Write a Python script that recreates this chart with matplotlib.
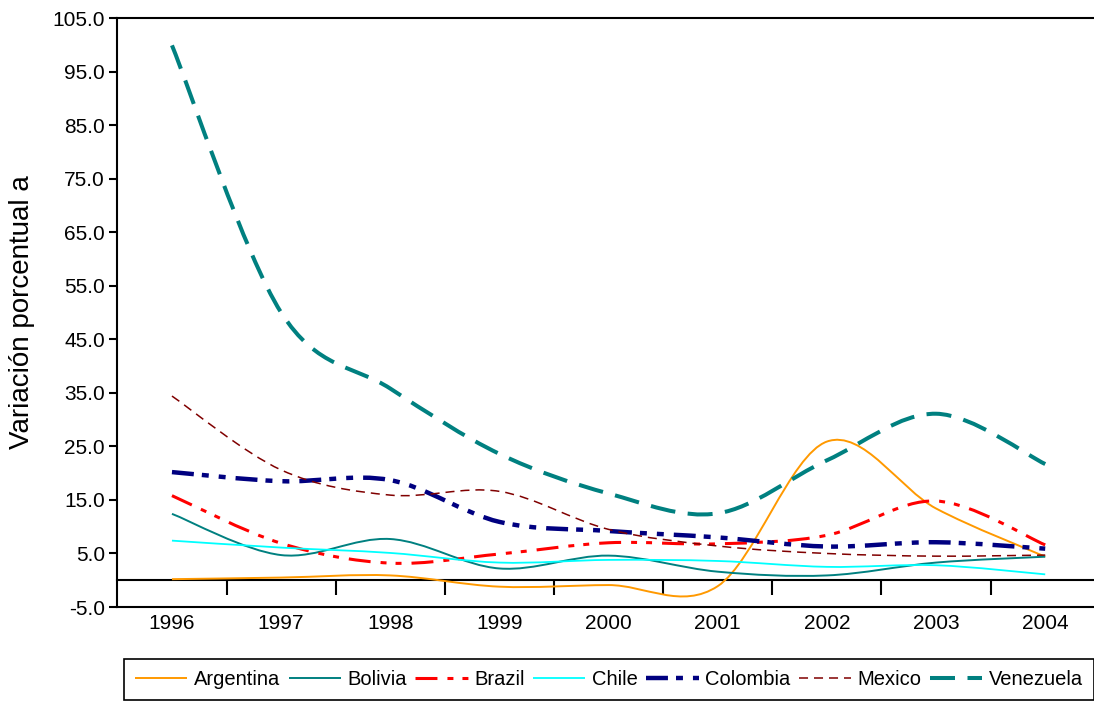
"""
Inflation in selected Latin American countries, 1996-2004 (smoothed lines, Excel style)
"""
import matplotlib.pyplot as plt
from matplotlib.path import Path
from matplotlib.patches import PathPatch
from matplotlib.lines import Line2D

plt.rcParams['font.family'] = ['Liberation Sans', 'DejaVu Sans']
plt.rcParams['font.size'] = 15
plt.rcParams['lines.scale_dashes'] = False

# Data
years = [1996, 1997, 1998, 1999, 2000, 2001, 2002, 2003, 2004]
argentina = [0.2, 0.5, 0.9, -1.2, -0.9, -1.1, 25.9, 13.4, 4.4]
bolivia = [12.4, 4.7, 7.7, 2.2, 4.6, 1.6, 0.9, 3.3, 4.4]
brazil = [15.8, 6.9, 3.2, 4.9, 7.0, 6.8, 8.4, 14.8, 6.6]
chile = [7.4, 6.1, 5.1, 3.3, 3.8, 3.6, 2.5, 2.8, 1.1]
colombia = [20.2, 18.5, 18.7, 10.9, 9.2, 8.0, 6.3, 7.1, 5.9]
mexico = [34.4, 20.6, 15.9, 16.6, 9.5, 6.4, 5.0, 4.5, 4.7]
venezuela = [99.9, 50.0, 35.8, 23.6, 16.2, 12.5, 22.4, 31.1, 21.7]

series = [
    ("Argentina", argentina, '#FF9900', 1.4, None),
    ("Bolivia", bolivia, '#008080', 1.4, None),
    ("Brazil", brazil, '#FF0000', 2.2, (0, (15.8, 7.2, 4.3, 6.5, 4.3, 7.2))),
    ("Chile", chile, '#00FFFF', 1.3, None),
    ("Colombia", colombia, '#000080', 3.2, (0, (15.8, 5.8, 5.0, 7.2, 5.0, 7.2))),
    ("Mexico", mexico, '#800000', 1.1, (0, (6.5, 4.3))),
    ("Venezuela", venezuela, '#008080', 2.9, (0, (18.0, 9.0))),
]


def smooth_path(xs, ys):
    """Catmull-Rom style bezier path through the points (like Excel smoothed lines)"""
    n = len(xs)
    verts = [(xs[0], ys[0])]
    codes = [Path.MOVETO]
    for i in range(n - 1):
        a, b = max(i - 1, 0), min(i + 2, n - 1)
        verts.append((xs[i] + (xs[i + 1] - xs[a]) / 6, ys[i] + (ys[i + 1] - ys[a]) / 6))
        verts.append((xs[i + 1] - (xs[b] - xs[i]) / 6, ys[i + 1] - (ys[b] - ys[i]) / 6))
        verts.append((xs[i + 1], ys[i + 1]))
        codes += [Path.CURVE4] * 3
    return Path(verts, codes)


fig = plt.figure(figsize=(10.94, 7.02), dpi=100)
ax = fig.add_axes([0.1073, 0.1353, 0.898, 0.839])

handles = []
for name, vals, color, lw, ls in series:
    style = ls if ls is not None else 'solid'
    patch = PathPatch(smooth_path(years, vals), fill=False, edgecolor=color,
                      linewidth=lw, linestyle=style, capstyle='butt')
    ax.add_patch(patch)
    handles.append(Line2D([], [], color=color, linewidth=lw, linestyle=style,
                          solid_capstyle='butt', dash_capstyle='butt'))

ax.set_xlim(1995.5, 2004.5)
ax.set_ylim(-5, 105)
yt = list(range(-5, 106, 10))
ax.set_yticks(yt, labels=[f'{v:.1f}' for v in yt])
ax.set_xticks(years, labels=[str(y) for y in years])
ax.tick_params(axis='y', length=6, width=1.5, direction='out', pad=3)
ax.tick_params(axis='x', length=0, pad=5)
for side in ['left', 'top', 'bottom']:
    ax.spines[side].set_linewidth(1.5)
ax.spines['right'].set_visible(False)
ax.set_ylabel("Variación porcentual a", fontsize=20)
ax.yaxis.set_label_coords(-0.084, 0.5)

# category axis crossing at zero, tick marks between categories
sec = ax.secondary_xaxis(5 / 110)
sec.set_xticks([y + 0.5 for y in years[:-1]], labels=[])
sec.tick_params(length=11, width=1.5)
sec.spines['bottom'].set_linewidth(1.5)

leg = fig.legend(handles, [s[0] for s in series], loc='lower left',
                 bbox_to_anchor=(124 / 1094, 2 / 702), ncol=7, fancybox=False,
                 edgecolor='black', framealpha=1, fontsize=14.5, handlelength=2.6,
                 handletextpad=0.32, columnspacing=0.42, borderpad=0.55,
                 borderaxespad=0)
leg.get_frame().set_linewidth(1.2)

plt.savefig('out.png', dpi=100)
